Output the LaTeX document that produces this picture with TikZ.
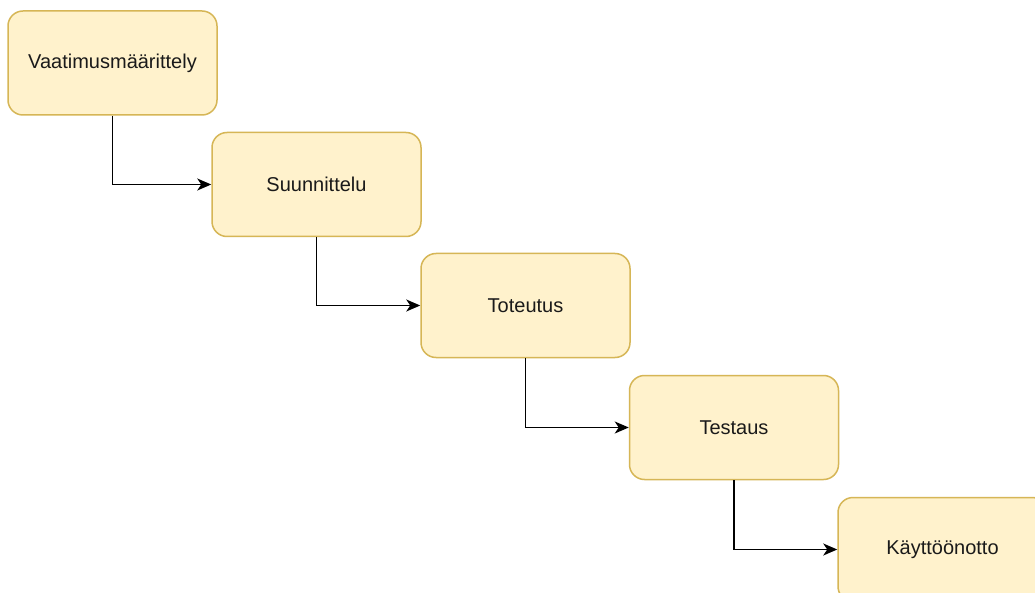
\documentclass[tikz,border=0pt]{standalone}
\usepackage{fontspec}
\setmainfont{Liberation Sans}
\usetikzlibrary{arrows.meta}
\definecolor{boxfill}{HTML}{FFF2CC}
\definecolor{boxdraw}{HTML}{D6B656}
\definecolor{txt}{HTML}{1A1A1A}
\begin{document}
\begin{tikzpicture}[x=1pt,y=-1pt,
  stage/.style={draw=boxdraw,fill=boxfill,line width=1.5pt,rounded corners=15pt,
    minimum width=209pt,minimum height=104pt,inner sep=0pt,
    font=\fontsize{20}{24}\selectfont,text=txt},
  flow/.style={draw=black,line width=1.5pt,-{Stealth[length=14pt,width=12pt,inset=4pt]}}]
\useasboundingbox (0,0) rectangle (1035,593);
\clip (0,0) rectangle (1035,593);
\fill[white] (0,0) rectangle (1035,593);
\node[stage] (s1) at (112.5,63) {Vaatimusmäärittely};
\node[stage] (s2) at (316.5,184.5) {Suunnittelu};
\node[stage] (s3) at (525.5,305.5) {Toteutus};
\node[stage] (s4) at (734,427.5) {Testaus};
\node[stage] (s5) at (942.5,549.5) {Käyttöönotto};
\draw[flow] (s1.south) |- (s2.west);
\draw[flow] (s2.south) |- (s3.west);
\draw[flow] (s3.south) |- (s4.west);
\draw[flow] (s4.south) |- (s5.west);
\end{tikzpicture}
\end{document}
